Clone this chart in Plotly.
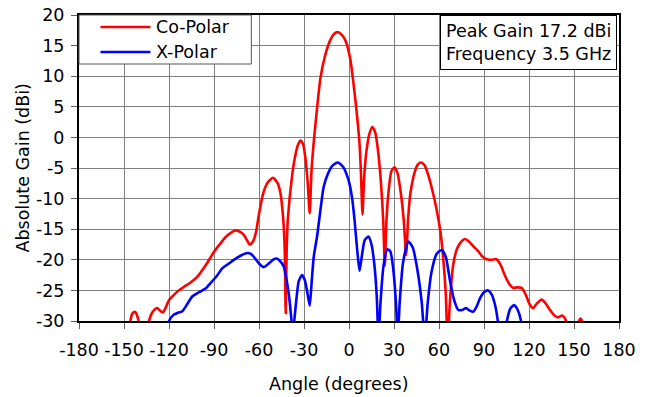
import plotly.graph_objects as go

# ---- data ----
co_angle = [-150, -146.5, -144.5, -142.7, -141, -139.4, -137, -134.4, -132, -129.5,
            -127.8, -125.5, -124, -122, -120, -117, -114.5, -110, -105.6, -101.2,
            -95, -90, -85, -81, -75.7, -72, -70.2, -68, -66.2, -64,
            -62, -60, -57, -54, -50.6, -47.5, -45.7, -44.5, -43.5, -42.8,
            -42.2, -41.6, -40.8, -38, -36, -34, -32.4, -30.5, -29, -27.5,
            -26.2, -25, -23.6, -21.3, -19.1, -15.8, -12.5, -10, -7.6,
            -5, -2.5, 0.8, 3.0, 5.3, 7.0, 8.0, 9.0, 10,
            11.5, 13.5, 15.5, 17.5, 19.5, 21.5, 22.8, 23.9, 25, 26.3,
            28.3, 30.3, 32.3, 34.5, 36.5, 38.1, 39.5, 41, 44, 46,
            48.1, 50.5, 53, 55.5, 58.5, 61, 62.9, 64.5, 65.8, 67,
            68.5, 69.6, 72, 75, 77.3, 80, 83, 86.2, 89, 91.8,
            95, 98.4, 101, 104, 107, 109.5, 112, 115.1, 118, 120.5,
            122.8, 125, 128.4, 131, 134, 137, 139.4, 142, 143.5, 145.4,
            147, 150, 152, 154.3, 156, 158]
co_gain = [-38, -31, -28.8, -28.5, -29.3, -31, -34, -31, -29, -28.1,
           -27.9, -28.4, -28.6, -27.7, -26.6, -25.8, -25.2, -24.4, -23.7, -22.8,
           -20.7, -18.7, -17.1, -16.0, -15.2, -15.5, -15.9, -16.8, -17.5, -17.0,
           -15.5, -12.5, -9.0, -7.3, -6.6, -7.5, -9.1, -11.5, -14.6, -19.0,
           -28.7, -19.0, -13.5, -6.4, -3.2, -1.2, -0.5, -1.2, -3.5, -7.5,
           -12.4, -5.5, -1.0, 4.75, 9.6, 13.5, 15.9, 16.9, 17.2,
           16.8, 15.9, 12.9, 8.8, 3.7, -1.0, -6.0, -12.6, -7.0,
           -2.5, 0.5, 1.7, 0.8, -2.5, -8.1, -13.5, -21.0, -13.5, -9.0,
           -5.5, -4.9, -5.8, -9.0, -13.5, -19.2, -13.0, -9.0, -5.5, -4.4,
           -4.1, -4.6, -6.3, -8.6, -11.9, -15.5, -20.0, -25.5, -34.0, -28.0,
           -23.0, -20.6, -18.2, -17.0, -16.6, -17.0, -17.8, -18.6, -19.5, -19.9,
           -20.0, -19.9, -20.8, -22.6, -24.0, -24.6, -24.5, -24.6, -25.8, -27.3,
           -27.9, -27.2, -26.5, -27.1, -28.2, -29.1, -29.4, -29.1, -29.4, -30.5,
           -33.0, -34.0, -31.0, -29.6, -30.5, -34.0]

x_angle = [-122, -120, -117, -114.5, -111.1, -108, -104.5, -100, -95.6, -92.3,
           -88, -84.5, -80, -76.8, -72, -67.9, -65, -63.5, -60, -56.8,
           -53, -50, -48.4, -46, -43.5, -41.8, -40.2, -38.5, -37.5, -36.5,
           -35.5, -33.5, -31.3, -29.5, -28, -26.2, -25, -23.5, -21.3, -19,
           -16.9, -14, -11, -7.4, -4, -0.3, 2, 3.7, 5.5, 7.0,
           8.5, 10.5, 13, 15, 17, 18.5, 19.7, 21, 23, 25.5,
           27.5, 29.5, 31.3, 32.5, 33.8, 36, 39.6, 42.5, 45.5, 48.5,
           50.5, 52.5, 55, 58.5, 61.8, 64.5, 67.4, 70, 72.9, 75.5,
           78, 80.5, 82.7, 85, 87.3, 90, 92.6, 95, 97.5, 99.5,
           101, 103.5, 105.1, 107.5, 110.1, 112.5, 114.5, 116]
x_gain = [-33, -30, -29, -28.7, -28.4, -27.3, -26.0, -25.3, -24.7, -23.8,
          -22.6, -21.4, -20.6, -20.0, -19.3, -18.9, -19.1, -19.5, -20.6, -21.2,
          -20.5, -19.9, -19.8, -20.2, -21.1, -23.0, -25.5, -29.5, -33.0, -30.0,
          -27.5, -23.5, -22.5, -23.3, -25.0, -27.5, -24.0, -19.5, -16.2, -11.8,
          -8.1, -5.9, -4.6, -4.1, -4.8, -7.0, -9.8, -13.5, -18.5, -21.8,
          -19.5, -16.8, -16.2, -17.5, -21.0, -26.0, -33.0, -27.0, -21.0, -18.3,
          -18.6, -21.5, -27.0, -33.0, -27.0, -20.5, -17.0, -18.0, -21.5, -27.0,
          -33.0, -27.0, -22.0, -19.0, -18.4, -19.5, -23.5, -26.5, -28.2, -28.2,
          -27.9, -28.3, -28.5, -27.7, -26.3, -25.3, -25.0, -25.6, -27.5, -30.5,
          -34.0, -33.0, -30.2, -28.0, -27.4, -28.2, -29.8, -33.0]

x_ticks = list(range(-180, 181, 30))
x_ticktext = [str(v) for v in x_ticks]
y_ticks = list(range(-30, 21, 5))
y_ticktext = [str(v) for v in y_ticks]
series_names = ["Co-Polar", "X-Polar"]
series_colors = ["#ff0000", "#0000ff"]

FONT = "DejaVu Sans"
FS = 17.5

fig = go.Figure()
fig.add_trace(go.Scatter(x=co_angle, y=co_gain, mode="lines", name=series_names[0],
                         line=dict(color=series_colors[0], width=2.6, shape="spline", smoothing=0.6)))
fig.add_trace(go.Scatter(x=x_angle, y=x_gain, mode="lines", name=series_names[1],
                         line=dict(color=series_colors[1], width=2.6, shape="spline", smoothing=0.6)))

axis_common = dict(showline=True, linecolor="black", linewidth=2, mirror=True,
                   showgrid=True, gridcolor="#808080", gridwidth=1,
                   ticks="outside", ticklen=6, tickcolor="#606060", tickwidth=1,
                   zeroline=False, automargin=False, tickangle=0,
                   tickfont=dict(family=FONT, size=FS, color="black"))

fig.update_xaxes(range=[-180, 180], tickvals=x_ticks, ticktext=x_ticktext,
                 ticklabelstandoff=6, **axis_common)
fig.update_yaxes(range=[-30, 20], tickvals=y_ticks, ticktext=y_ticktext,
                 ticklabelstandoff=3, **axis_common)

# plot-area geometry in pixels (for placing legend pieces in paper units)
L, R, T, B = 78.5, 619.0, 15.0, 321.0
def px(xp):
    return (xp - L) / (R - L)
def py(yp):
    return (B - yp) / (B - T)

shapes = [dict(type="rect", xref="paper", yref="paper", x0=0, x1=px(251), y0=py(64), y1=1,
               fillcolor="white", line=dict(color="#555555", width=1), layer="above")]
annotations = []
for i, (nm, col) in enumerate(zip(series_names, series_colors)):
    yy = py(27 + 25 * i)
    shapes.append(dict(type="line", xref="paper", yref="paper", x0=px(100), x1=px(150),
                       y0=yy, y1=yy, line=dict(color=col, width=2.6), layer="above"))
    annotations.append(dict(text=nm, xref="paper", yref="paper", x=px(154), y=yy,
                            xanchor="left", yanchor="middle", showarrow=False,
                            font=dict(family=FONT, size=FS, color="black")))

annotations += [
    dict(text="Peak Gain 17.2 dBi<br>Frequency 3.5 GHz", xref="paper", yref="paper",
         x=px(617), y=1.0, xanchor="right", yanchor="top", align="left", showarrow=False,
         bgcolor="white", bordercolor="black", borderwidth=1, borderpad=5,
         font=dict(family=FONT, size=FS, color="black")),
    dict(text="Angle (degrees)", xref="paper", yref="paper", x=px(338), y=py(384),
         xanchor="center", yanchor="middle", showarrow=False,
         font=dict(family=FONT, size=FS, color="black")),
    dict(text="Absolute Gain (dBi)", xref="paper", yref="paper", x=px(22), y=0.5,
         xanchor="center", yanchor="middle", showarrow=False, textangle=-90,
         font=dict(family=FONT, size=FS, color="black")),
]

fig.update_layout(
    width=654, height=397,
    margin=dict(l=L, r=654 - R, t=T, b=397 - B, pad=0),
    plot_bgcolor="white", paper_bgcolor="white",
    font=dict(family=FONT, size=FS, color="black"),
    showlegend=False,
    shapes=shapes,
    annotations=annotations,
)

fig.write_html("out.html")
